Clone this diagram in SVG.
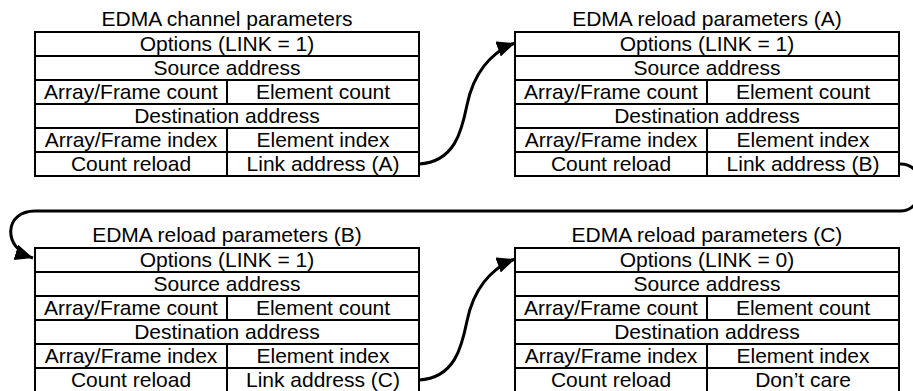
<svg xmlns="http://www.w3.org/2000/svg" width="913" height="391" viewBox="0 0 913 391">
  <style>
    .bg { fill: #ffffff; }
    .box { fill: #ffffff; stroke: #000000; stroke-width: 2; }
    .ln { stroke: #000000; stroke-width: 2; fill: none; }
    .t { font-family: "Liberation Sans", Arial, Helvetica, sans-serif; font-size: 21px; fill: #000000; text-anchor: middle; }
    .conn { fill: none; stroke: #000000; stroke-width: 3; }
  </style>
  <defs>
    <marker id="arrow" markerUnits="userSpaceOnUse" markerWidth="20" markerHeight="18" refX="18" refY="8" orient="auto">
      <path d="M0,0 L18,8 L0,16 Z" fill="#000000"/>
    </marker>
  </defs>
  <rect class="bg" x="0" y="0" width="913" height="391"/>

  <g id="node-channel">
    <text class="t" x="227" y="26">EDMA channel parameters</text>
    <rect class="box" x="35" y="32" width="384" height="144"/>
    <path class="ln" d="M35,56 H419 M35,80 H419 M35,104 H419 M35,128 H419 M35,152 H419 M227,80 V104 M227,128 V176"/>
    <text class="t" x="227" y="51">Options (LINK = 1)</text>
    <text class="t" x="227" y="75">Source address</text>
    <text class="t" x="131" y="99">Array/Frame count</text>
    <text class="t" x="323" y="99">Element count</text>
    <text class="t" x="227" y="123">Destination address</text>
    <text class="t" x="131" y="147">Array/Frame index</text>
    <text class="t" x="323" y="147">Element index</text>
    <text class="t" x="131" y="171">Count reload</text>
    <text class="t" x="323" y="171">Link address (A)</text>
  </g>

  <g id="node-reload-a">
    <text class="t" x="707" y="26">EDMA reload parameters (A)</text>
    <rect class="box" x="515" y="32" width="384" height="144"/>
    <path class="ln" d="M515,56 H899 M515,80 H899 M515,104 H899 M515,128 H899 M515,152 H899 M707,80 V104 M707,128 V176"/>
    <text class="t" x="707" y="51">Options (LINK = 1)</text>
    <text class="t" x="707" y="75">Source address</text>
    <text class="t" x="611" y="99">Array/Frame count</text>
    <text class="t" x="803" y="99">Element count</text>
    <text class="t" x="707" y="123">Destination address</text>
    <text class="t" x="611" y="147">Array/Frame index</text>
    <text class="t" x="803" y="147">Element index</text>
    <text class="t" x="611" y="171">Count reload</text>
    <text class="t" x="803" y="171">Link address (B)</text>
  </g>

  <g id="node-reload-b">
    <text class="t" x="227" y="242">EDMA reload parameters (B)</text>
    <rect class="box" x="35" y="248" width="384" height="144"/>
    <path class="ln" d="M35,272 H419 M35,296 H419 M35,320 H419 M35,344 H419 M35,368 H419 M227,296 V320 M227,344 V392"/>
    <text class="t" x="227" y="267">Options (LINK = 1)</text>
    <text class="t" x="227" y="291">Source address</text>
    <text class="t" x="131" y="315">Array/Frame count</text>
    <text class="t" x="323" y="315">Element count</text>
    <text class="t" x="227" y="339">Destination address</text>
    <text class="t" x="131" y="363">Array/Frame index</text>
    <text class="t" x="323" y="363">Element index</text>
    <text class="t" x="131" y="387">Count reload</text>
    <text class="t" x="323" y="387">Link address (C)</text>
  </g>

  <g id="node-reload-c">
    <text class="t" x="707" y="242">EDMA reload parameters (C)</text>
    <rect class="box" x="515" y="248" width="384" height="144"/>
    <path class="ln" d="M515,272 H899 M515,296 H899 M515,320 H899 M515,344 H899 M515,368 H899 M707,296 V320 M707,344 V392"/>
    <text class="t" x="707" y="267">Options (LINK = 0)</text>
    <text class="t" x="707" y="291">Source address</text>
    <text class="t" x="611" y="315">Array/Frame count</text>
    <text class="t" x="803" y="315">Element count</text>
    <text class="t" x="707" y="339">Destination address</text>
    <text class="t" x="611" y="363">Array/Frame index</text>
    <text class="t" x="803" y="363">Element index</text>
    <text class="t" x="611" y="387">Count reload</text>
    <text class="t" x="803" y="387">Don’t care</text>
  </g>

  <g id="connectors">
    <path class="conn" marker-end="url(#arrow)" d="M419,164 C455,162 462,130 467,105 C473,75 490,52 515,43"/>
    <path class="conn" marker-end="url(#arrow)" d="M899,164 C928,162 928,211 900,211 L35,211 C4,211 2,248 33,258"/>
    <path class="conn" marker-end="url(#arrow)" d="M419,380 C455,378 462,346 467,321 C473,291 490,268 515,259"/>
  </g>
</svg>
